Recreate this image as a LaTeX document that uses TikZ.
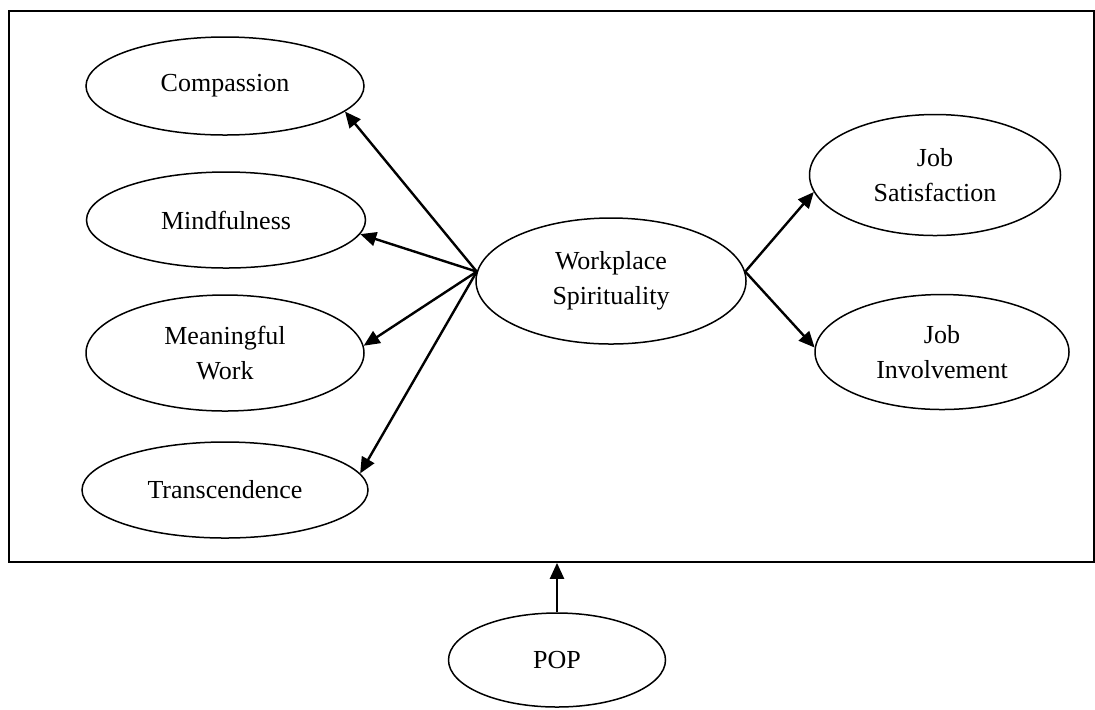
\documentclass[tikz,border=0pt]{standalone}
\usepackage{fontspec}
\setmainfont{Liberation Serif}
\usepackage{tikz}
\usetikzlibrary{shapes.geometric, arrows.meta}

\begin{document}
\begin{tikzpicture}[x=0.5pt, y=-0.5pt,
    font=\fontsize{13}{17.5}\selectfont,
    construct/.style={draw, ellipse, line width=0.75pt, inner sep=0pt, align=center},
    link/.style={line width=1.2pt, -{Triangle[length=8pt, width=7pt]}},
    frame/.style={draw, line width=0.85pt, minimum width=542.5pt, minimum height=275.5pt, inner sep=0pt}]
  \useasboundingbox (0,0) rectangle (1095,709);

  % Outer box
  \node[frame] (box) at (551.5,286.5) {};

  % Dimensions of workplace spirituality
  \node[construct, minimum width=139pt, minimum height=49pt] (comp) at (225,86) {Compassion};
  \node[construct, minimum width=139.5pt, minimum height=48pt] (mind) at (226,220) {Mindfulness};
  \node[construct, minimum width=139pt, minimum height=58pt] (mean) at (225,353) {Meaningful\\Work};
  \node[construct, minimum width=143pt, minimum height=48pt] (trans) at (225,490) {Transcendence};

  % Central construct and outcomes
  \node[construct, minimum width=135pt, minimum height=63pt] (ws) at (611,281) {Workplace\\Spirituality};
  \node[construct, minimum width=125.5pt, minimum height=60.5pt] (js) at (935,175) {Job\\Satisfaction};
  \node[construct, minimum width=127pt, minimum height=57.5pt] (ji) at (942,352) {Job\\Involvement};

  % Moderator below the box
  \node[construct, minimum width=108.5pt, minimum height=47pt] (pop) at (557,660) {POP};

  % Arrows
  \draw[link] (ws.176) -- (comp.-12);
  \draw[link] (ws.176) -- (mind.-6);
  \draw[link] (ws.176) -- (mean.3);
  \draw[link] (ws.176) -- (trans.7.5);
  \draw[link] (ws.4) -- (js.-172);
  \draw[link] (ws.4) -- (ji.178);
  \draw[link] (pop.north) -- (pop.north |- box.south);
\end{tikzpicture}
\end{document}
